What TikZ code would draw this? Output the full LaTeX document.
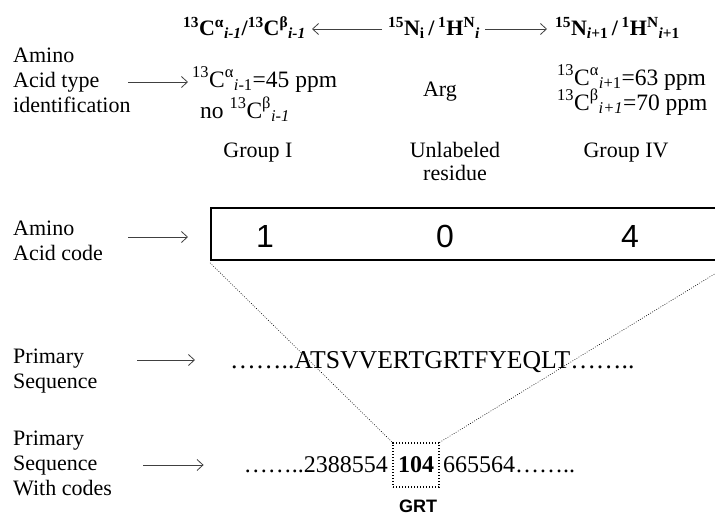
\documentclass[tikz,border=0pt]{standalone}
\usepackage{fontspec}
\setmainfont{Liberation Serif}
\newfontfamily\sansf{Liberation Sans}
\usetikzlibrary{arrows.meta}
\begin{document}
\begin{tikzpicture}[x=1pt,y=-1pt,
  lab/.style={anchor=base west, inner sep=0pt, align=left, font=\fontsize{22}{25}\selectfont},
  val/.style={anchor=base west, inner sep=0pt, font=\fontsize{23.5}{25}\selectfont},
  txt/.style={inner sep=0pt, anchor=base, align=center, font=\fontsize{22}{23}\selectfont},
  hdr/.style={anchor=base west, inner sep=0pt, font=\fontsize{22}{24}\selectfont\bfseries},
  arr/.style={draw=black!75, line width=0.8pt, -{Straight Barb[length=6pt,width=11pt]}},
  digit/.style={inner sep=0pt, font=\sansf\fontsize{32}{32}\selectfont},
  seq/.style={inner sep=0pt, anchor=base west, font=\fontsize{25.7}{28}\selectfont},
  cod/.style={inner sep=0pt, font=\fontsize{24}{28}\selectfont},
  zoomline/.style={draw, line width=0.6pt, dash pattern=on 0.8pt off 1.6pt}]
\useasboundingbox (0,0) rectangle (715,517);
\clip (0,0) rectangle (715,517);
% header row
\node[hdr] (n1) at (183,35) {\textsuperscript{13}C\textsuperscript{α}\textsubscript{\textit{i-1}}/\textsuperscript{13}C\textsuperscript{β}\textsubscript{\textit{i-1}}};
\node[hdr] (n2) at (388,35) {\textsuperscript{15}N\textsubscript{i}\,/\,\textsuperscript{1}H\textsuperscript{N}\textsubscript{\textit{i}}};
\node[hdr] (n3) at (555,35) {\textsuperscript{15}N\textsubscript{\textit{i}+1}\,/\,\textsuperscript{1}H\textsuperscript{N}\textsubscript{\textit{i}+1}};
\coordinate (trow) at (0,29);
\draw[arr] (n2.west |- trow) -- (n1.east |- trow) [shorten <=6pt, shorten >=6pt];
\draw[arr] (n2.east |- trow) -- (n3.west |- trow) [shorten <=5pt, shorten >=8pt];
% amino acid type identification
\node[lab] (aat) at (13,112) {Amino\\Acid type\\identification};
\node[val] (c1) at (192,87) {\textsuperscript{13}C\textsuperscript{α}\textsubscript{\textit{i}-1}=45 ppm};
\node[val] (c2) at (200,118) {no \textsuperscript{13}C\textsuperscript{β}\textsubscript{\textit{i-1}}};
\coordinate (a1t) at (128,82);
\draw[arr] (a1t) -- (c1.west |- a1t) [shorten >=4pt];
\node[txt] (g1) at (258,157) {Group I};
\node[txt] (arg) at (440,96) {Arg};
\node[txt] (unl) at (455,180) {Unlabeled\\residue};
\node[val] (d1) at (557,85) {\textsuperscript{13}C\textsuperscript{α}\textsubscript{\textit{i}+1}=63 ppm};
\node[val] (d2) at (557,110) {\textsuperscript{13}C\textsuperscript{β}\textsubscript{\textit{i+1}}=70 ppm};
\node[txt] (g4) at (626,157) {Group IV};
% amino acid code
\node[lab] (aac) at (13,260) {Amino\\Acid code};
\node[draw, line width=1.8pt, minimum width=521pt, minimum height=52pt, anchor=north west, inner sep=0pt] (box) at (210,207) {};
\node[digit] (k1) at (265,236) {1};
\node[digit] (k0) at (445,236) {0};
\node[digit] (k4) at (630,236) {4};
\coordinate (a2t) at (128,237);
\draw[arr] (a2t) -- (box.west |- a2t) [shorten >=22pt];
% primary sequence
\node[lab] (ps) at (13,388) {Primary\\Sequence};
\node[seq] (sq) at (230,368) {……..ATSVVERTGRTFYEQLT……..};
\coordinate (a3t) at (137,360);
\draw[arr] (a3t) -- (sq.west |- a3t) [shorten >=35pt];
% primary sequence with codes
\node[lab] (pc) at (13,495) {Primary\\Sequence\\With codes};
\node[cod, anchor=base east] (cl) at (388,472) {……..2388554};
\node[draw, line width=1.4pt, dash pattern=on 1.4pt off 1.6pt, minimum width=46pt, minimum height=44pt, inner sep=0pt, font=\fontsize{24}{24}\selectfont\bfseries] (dbox) at (416,465) {104};
\node[cod, anchor=base west] (cr) at (443,472) {665564……..};
\coordinate (a4t) at (143,465);
\draw[arr] (a4t) -- (cl.west |- a4t) [shorten >=40pt];
\node[inner sep=0pt, font=\sansf\bfseries\fontsize{18}{18}\selectfont] (grt) at (418,506) {GRT};
% zoom lines
\draw[zoomline] ([yshift=-2pt]box.south west) -- (dbox.north west);
\draw[zoomline] ([yshift=-2pt]box.south east) -- (dbox.north east);
\end{tikzpicture}
\end{document}
